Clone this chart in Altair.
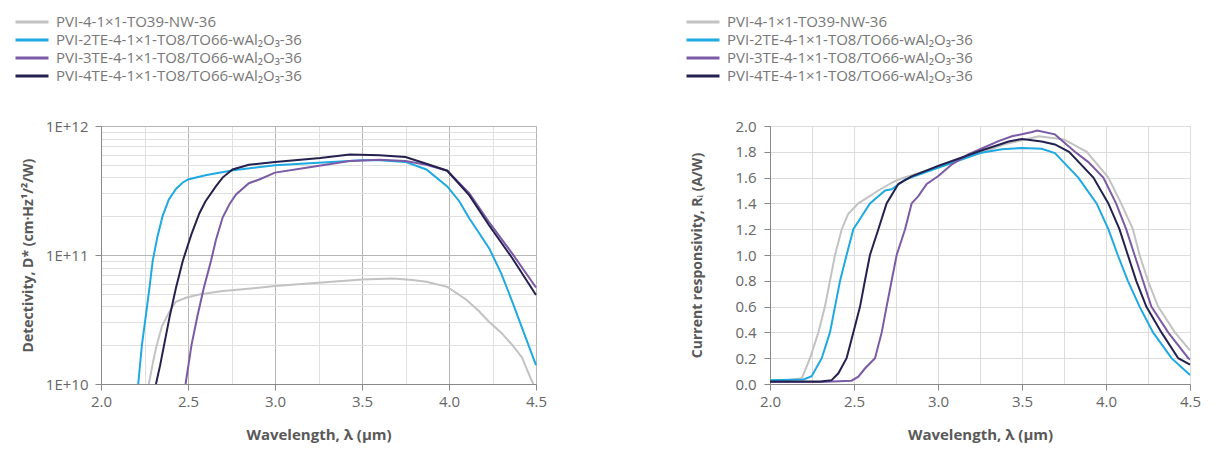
import altair as alt
import pandas as pd

SERIES = [
    "PVI-4-1×1-TO39-NW-36",
    "PVI-2TE-4-1×1-TO8/TO66-wAl₂O₃-36",
    "PVI-3TE-4-1×1-TO8/TO66-wAl₂O₃-36",
    "PVI-4TE-4-1×1-TO8/TO66-wAl₂O₃-36",
]
COLORS = ["#c2c2c2", "#1ea9e1", "#7b5aa6", "#24214f"]

# ---- Detectivity D* (cm·Hz^1/2/W) ----
d_wl_nw = [2.275, 2.30, 2.316, 2.35, 2.393, 2.43, 2.488, 2.55, 2.6, 2.7, 2.8, 3.0, 3.25, 3.5, 3.68, 3.79, 3.87,
           3.99, 4.1, 4.17, 4.23, 4.3, 4.365, 4.42, 4.47, 4.485]
d_val_nw = [1.0e10, 1.5e10, 1.89e10, 2.8e10, 3.63e10, 4.34e10, 4.66e10, 4.9e10, 5.03e10, 5.25e10, 5.4e10, 5.74e10,
            6.09e10, 6.46e10, 6.58e10, 6.4e10, 6.2e10, 5.66e10, 4.5e10, 3.7e10, 3.04e10, 2.5e10, 2.0e10, 1.6e10,
            1.1e10, 1.0e10]

d_wl_2te = [2.214, 2.235, 2.258, 2.28, 2.297, 2.325, 2.354, 2.39, 2.431, 2.47, 2.5, 2.6, 2.76, 3.0, 3.25, 3.5,
            3.6, 3.75, 3.87, 3.99, 4.06, 4.117, 4.17, 4.232, 4.3, 4.365, 4.43, 4.5]
d_val_2te = [1.0e10, 2.0e10, 3.4e10, 5.8e10, 9.0e10, 1.4e11, 2.0e11, 2.7e11, 3.25e11, 3.65e11, 3.85e11, 4.15e11,
             4.54e11, 4.96e11, 5.2e11, 5.42e11, 5.42e11, 5.27e11, 4.6e11, 3.4e11, 2.6e11, 1.92e11, 1.5e11,
             1.12e11, 7.2e10, 4.3e10, 2.5e10, 1.4e10]

d_wl_3te = [2.486, 2.52, 2.555, 2.59, 2.632, 2.66, 2.699, 2.74, 2.776, 2.85, 2.91, 3.0, 3.18, 3.43, 3.6, 3.75,
            3.87, 3.99, 4.117, 4.23, 4.365, 4.5]
d_val_3te = [1.0e10, 2.0e10, 3.4e10, 5.5e10, 9.0e10, 1.3e11, 1.95e11, 2.5e11, 2.95e11, 3.6e11, 3.85e11, 4.35e11,
             4.75e11, 5.36e11, 5.48e11, 5.36e11, 5.0e11, 4.5e11, 3.0e11, 1.8e11, 1.02e11, 5.6e10]

d_wl_4te = [2.316, 2.34, 2.394, 2.43, 2.47, 2.5, 2.52, 2.565, 2.6, 2.66, 2.7, 2.756, 2.85, 3.0, 3.26, 3.43, 3.6,
            3.75, 3.87, 3.99, 4.117, 4.23, 4.365, 4.5]
d_val_4te = [1.0e10, 1.4e10, 3.3e10, 5.5e10, 9.0e10, 1.2e11, 1.45e11, 2.1e11, 2.6e11, 3.4e11, 4.0e11, 4.6e11,
             5.0e11, 5.27e11, 5.65e11, 6.0e11, 5.93e11, 5.75e11, 5.1e11, 4.5e11, 2.9e11, 1.7e11, 9.4e10, 4.9e10]

# ---- Current responsivity Ri (A/W) ----
r_wl_nw = [2.0, 2.1, 2.19, 2.238, 2.288, 2.327, 2.357, 2.387, 2.427, 2.466, 2.526, 2.645, 2.724, 2.764, 2.85,
           3.0, 3.25, 3.4, 3.5, 3.6, 3.75, 3.885, 4.014, 4.09, 4.16, 4.2, 4.25, 4.31, 4.41, 4.5]
r_val_nw = [0.03, 0.03, 0.045, 0.2, 0.4, 0.6, 0.8, 1.0, 1.2, 1.32, 1.4, 1.5, 1.56, 1.585, 1.62, 1.68, 1.79, 1.86,
            1.89, 1.92, 1.896, 1.8, 1.6, 1.4, 1.2, 1.0, 0.8, 0.6, 0.4, 0.26]

r_wl_2te = [2.0, 2.2, 2.248, 2.308, 2.357, 2.387, 2.417, 2.456, 2.496, 2.526, 2.595, 2.685, 2.724, 2.804, 3.0,
            3.25, 3.38, 3.5, 3.617, 3.696, 3.835, 3.944, 4.014, 4.07, 4.13, 4.2, 4.28, 4.39, 4.5]
r_val_2te = [0.03, 0.035, 0.06, 0.2, 0.4, 0.6, 0.8, 1.0, 1.2, 1.26, 1.4, 1.5, 1.51, 1.585, 1.676, 1.79, 1.82,
             1.83, 1.824, 1.79, 1.6, 1.4, 1.2, 1.0, 0.8, 0.6, 0.4, 0.2, 0.07]

r_wl_3te = [2.0, 2.3, 2.486, 2.526, 2.565, 2.625, 2.665, 2.694, 2.724, 2.754, 2.804, 2.843, 2.883, 2.933, 3.0,
            3.08, 3.18, 3.25, 3.36, 3.44, 3.56, 3.59, 3.696, 3.815, 3.895, 3.984, 4.06, 4.12, 4.17, 4.22, 4.27,
            4.37, 4.49, 4.5]
r_val_3te = [0.015, 0.015, 0.026, 0.057, 0.12, 0.2, 0.4, 0.6, 0.8, 1.0, 1.2, 1.4, 1.456, 1.55, 1.61, 1.70, 1.78,
             1.82, 1.883, 1.92, 1.953, 1.965, 1.935, 1.8, 1.72, 1.6, 1.4, 1.2, 1.0, 0.8, 0.6, 0.4, 0.2, 0.19]

r_wl_4te = [2.0, 2.3, 2.367, 2.407, 2.456, 2.496, 2.536, 2.565, 2.595, 2.645, 2.694, 2.764, 2.843, 3.0, 3.25,
            3.42, 3.5, 3.617, 3.696, 3.78, 3.925, 4.014, 4.08, 4.13, 4.18, 4.24, 4.33, 4.43, 4.5]
r_val_4te = [0.02, 0.02, 0.03, 0.083, 0.2, 0.4, 0.6, 0.8, 1.0, 1.2, 1.4, 1.55, 1.61, 1.69, 1.806, 1.88, 1.90,
             1.88, 1.857, 1.8, 1.6, 1.4, 1.2, 1.0, 0.8, 0.6, 0.4, 0.2, 0.15]

X_TICKS = [2.0, 2.25, 2.5, 2.75, 3.0, 3.25, 3.5, 3.75, 4.0, 4.25, 4.5]
D_TICKS = [1e10, 2e10, 3e10, 4e10, 5e10, 6e10, 7e10, 8e10, 9e10,
           1e11, 2e11, 3e11, 4e11, 5e11, 6e11, 7e11, 8e11, 9e11, 1e12]
R_TICKS = [0.0, 0.2, 0.4, 0.6, 0.8, 1.0, 1.2, 1.4, 1.6, 1.8, 2.0]


def frame(pairs):
    rows = []
    for name, wls, vals in pairs:
        for w, v in zip(wls, vals):
            rows.append({"wl": w, "val": v, "series": name})
    return pd.DataFrame(rows)


d_df = frame([(SERIES[0], d_wl_nw, d_val_nw), (SERIES[1], d_wl_2te, d_val_2te),
              (SERIES[2], d_wl_3te, d_val_3te), (SERIES[3], d_wl_4te, d_val_4te)])
r_df = frame([(SERIES[0], r_wl_nw, r_val_nw), (SERIES[1], r_wl_2te, r_val_2te),
              (SERIES[2], r_wl_3te, r_val_3te), (SERIES[3], r_wl_4te, r_val_4te)])

TXT = "#666666"
TITLE = "#595959"
HALF = "abs(datum.value*2 - round(datum.value*2)) < 0.001"
DECADE = "abs(log(datum.value)/LN10 - round(log(datum.value)/LN10)) < 0.001"


def legend(lx, ly):
    return alt.Legend(title=None, orient="none", legendX=lx, legendY=ly, symbolType="stroke",
                      symbolSize=1089, symbolStrokeWidth=3, labelFontSize=15, labelColor="#777777",
                      labelFont="Open Sans", clipHeight=16, rowPadding=2, labelOffset=6, padding=0,
                      labelLimit=1000)


x_common = dict(values=X_TICKS, labelExpr=f"{HALF} ? format(datum.value, '.1f') : ''",
                title="Wavelength, λ (µm)", tickSize=6, labelPadding=4, titlePadding=18, labelFlush=False,
                domainColor="#888888", labelColor=TXT, titleColor=TITLE, labelFontSize=15,
                titleFontSize=15, titleFontWeight="bold", labelFont="Open Sans", titleFont="Open Sans")

left = alt.Chart(d_df).mark_line(strokeWidth=2).encode(
    x=alt.X("wl:Q", scale=alt.Scale(domain=[2.0, 4.5], nice=False),
            axis=alt.Axis(**x_common,
                          gridColor={"condition": {"test": HALF, "value": "#b5b5b5"}, "value": "#e0e0e0"},
                          tickColor={"condition": {"test": HALF, "value": "#888888"}, "value": "transparent"})),
    y=alt.Y("val:Q", scale=alt.Scale(type="log", domain=[1e10, 1e12], nice=False),
            axis=alt.Axis(values=D_TICKS,
                          labelExpr=f"{DECADE} ? '1E+' + round(log(datum.value)/LN10) : ''",
                          title="Detectivity, D* (cm·Hz¹/²/W)", tickSize=6, labelPadding=7, titlePadding=10,
                          domainColor="#888888", labelColor=TXT, titleColor=TITLE, labelFontSize=15,
                          titleFontSize=14, titleFontWeight="bold", labelFont="Open Sans", titleFont="Open Sans",
                          gridColor={"condition": {"test": DECADE, "value": "#b5b5b5"}, "value": "#e0e0e0"},
                          tickColor={"condition": {"test": DECADE, "value": "#888888"}, "value": "transparent"})),
    color=alt.Color("series:N", scale=alt.Scale(domain=SERIES, range=COLORS), legend=legend(-87, -112)),
    order=alt.Order("wl:Q"),
).properties(width=435, height=258)

right = alt.Chart(r_df).mark_line(strokeWidth=2).encode(
    x=alt.X("wl:Q", scale=alt.Scale(domain=[2.0, 4.5], nice=False),
            axis=alt.Axis(**x_common, gridColor="#dcdcdc",
                          tickColor={"condition": {"test": HALF, "value": "#888888"}, "value": "transparent"})),
    y=alt.Y("val:Q", scale=alt.Scale(domain=[0, 2.0], nice=False),
            axis=alt.Axis(values=R_TICKS, format=".1f", title="Current responsivity, Rᵢ (A/W)",
                          tickSize=6, labelPadding=8, titlePadding=30, domainColor="#888888",
                          tickColor="#888888", labelColor=TXT, titleColor=TITLE, labelFontSize=15,
                          titleFontSize=14, titleFontWeight="bold", labelFont="Open Sans", titleFont="Open Sans",
                          gridColor="#dcdcdc")),
    color=alt.Color("series:N", scale=alt.Scale(domain=SERIES, range=COLORS), legend=legend(-85, -112)),
    order=alt.Order("wl:Q"),
).properties(width=420, height=258)

chart = alt.hconcat(left, right, spacing=136).resolve_scale(color="independent").resolve_legend(
    color="independent"
).configure_view(stroke=None).configure(font="Open Sans", padding=5)

chart.save("out.html", embed_options={"renderer": "svg", "actions": False})
